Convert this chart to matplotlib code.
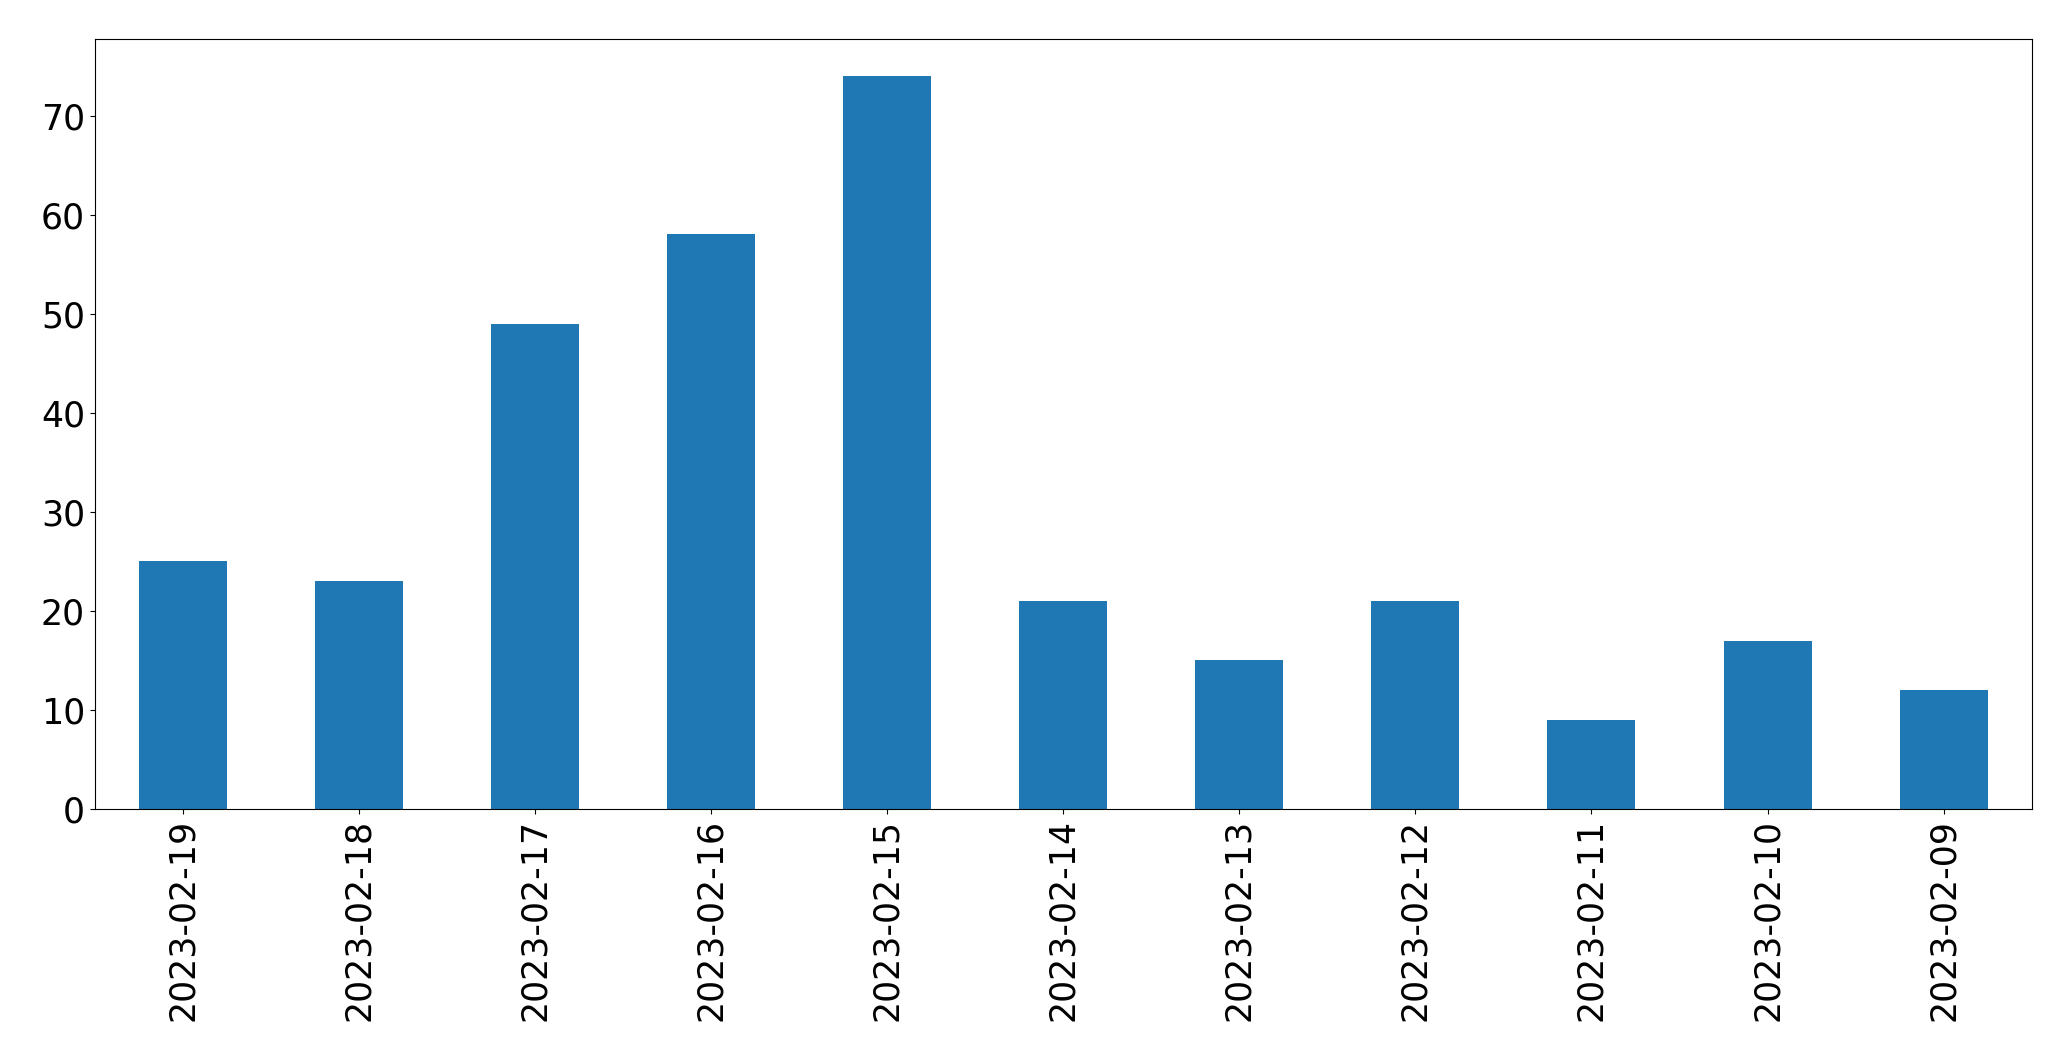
import matplotlib
matplotlib.use("Agg")
import matplotlib.pyplot as plt

dates = ["2023-02-19", "2023-02-18", "2023-02-17", "2023-02-16", "2023-02-15",
         "2023-02-14", "2023-02-13", "2023-02-12", "2023-02-11", "2023-02-10",
         "2023-02-09"]
counts = [25, 23, 49, 58, 74, 21, 15, 21, 9, 17, 12]

fig = plt.figure(figsize=(20.71, 10.61), dpi=100)
ax = fig.add_axes([94.7 / 2071, 1 - 809 / 1061, (2031.7 - 94.7) / 2071, (809 - 39.3) / 1061])
x = list(range(len(dates)))
ax.bar(x, counts, width=0.5, color="#1f77b4")
ax.set_xlim(-0.5, len(dates) - 0.5)
ax.set_ylim(0, max(counts) * 1.05)
ax.set_xticks(x)
ax.set_xticklabels(dates, rotation=90)
ax.tick_params(axis="both", labelsize=25)
fig.savefig("out.png", dpi=100)
